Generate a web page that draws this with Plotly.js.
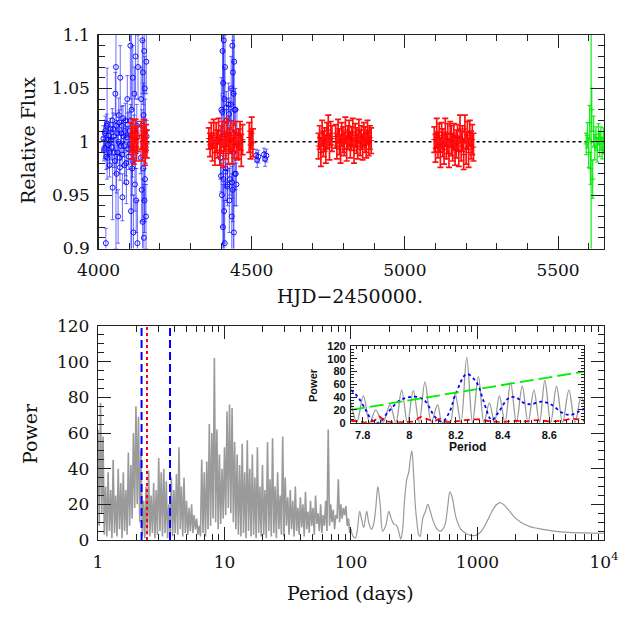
<!DOCTYPE html>
<html>
<head>
<meta charset="utf-8">
<script src="https://cdn.plot.ly/plotly-3.0.1.min.js"></script>
<style>
  body { margin: 0; background: #fff; }
  #plot { width: 638px; height: 638px; }
</style>
</head>
<body>
<div id="plot"></div>
<script>
// light curve: blue, red and green data sets (HJD-2450000, relative flux, error)
var blueX = [4016,4019,4022,4024,4025,4028,4031,4034,4037,4040,
  4046,4048,4051,4055,4057,4059,4061,4064,4066,4069,4071,4073,4076,4078,
  4082,4085,4088,4091,4094,4097,4100,
  4104,4106,4108,4110,4112,4114,4117,4119,4121,4123,4125,4127,4129,
  4139,4141,4143,4144,4145,4146,4147,4148,4149,4150,4151,4152,4153,4155,4156,
  4398,4401,4403,4405,4406,4407,4408,4409,4410,4411,4412,4413,4415,4418,4421,4424,4427,4430,
  4433,4435,4437,4438,4439,4440,4441,4442,4443,4445,4447,4450,4452,
  4514,4518,4522,4540,4544,4548,
  4018,4021,4027,4030,4033,4036,4039,4043,4045,4050,4053,4058,4062,4065,4068,4070,4074,4077,
  4080,4083,4087,4090,4093,4096,4099,4102,4105,4111,4116,4120,4126,4138,4142,4154,4157,
  4400,4404,4414,4417,4420,4426,4429,4432,4436,4444,4448];
var blueY = [1.003,0.994,1.010,0.905,0.986,1.017,0.997,1.006,0.990,1.001,
  0.957,1.012,0.990,1.045,1.070,0.970,1.008,0.930,1.025,0.985,1.060,0.996,1.015,0.948,
  1.005,0.978,1.020,0.962,1.040,0.993,1.010,
  1.090,0.935,1.030,0.975,1.060,0.915,1.045,0.960,1.080,0.945,1.015,0.905,1.070,
  1.040,0.955,1.095,0.925,1.065,0.975,1.025,0.910,1.085,0.945,1.050,0.965,1.010,0.930,1.075,
  0.985,1.030,0.950,1.085,0.920,1.055,0.965,1.095,0.935,1.040,0.905,1.070,0.975,1.020,0.960,1.035,0.945,1.010,
  1.050,0.930,1.090,0.955,1.065,0.990,1.045,0.915,1.075,0.970,1.030,0.960,1.010,
  0.987,0.983,0.986,0.988,0.984,0.987,
  0.992,1.008,1.015,0.985,1.002,0.978,1.012,0.995,1.020,1.005,0.982,1.015,0.990,1.000,1.018,0.976,1.008,0.988,
  1.022,0.996,1.010,0.980,1.004,1.016,0.986,0.998,1.020,0.982,1.010,0.990,1.004,0.985,1.015,0.995,1.005,
  0.968,1.028,0.972,1.032,0.958,1.026,0.965,1.035,0.962,1.030,0.970];
var blueErr = [0.012,0.010,0.014,0.014,0.012,0.052,0.011,0.012,0.013,0.010,
  0.030,0.015,0.014,0.020,0.170,0.018,0.012,0.025,0.016,0.015,0.030,0.013,0.018,0.022,
  0.015,0.017,0.016,0.020,0.022,0.014,0.018,
  0.050,0.040,0.160,0.025,0.030,0.035,0.025,0.025,0.040,0.030,0.020,0.040,0.030,
  0.030,0.030,0.050,0.040,0.030,0.030,0.030,0.050,0.040,0.030,0.030,0.040,0.030,0.030,0.030,
  0.020,0.030,0.030,0.040,0.040,0.030,0.160,0.040,0.030,0.030,0.040,0.030,0.030,0.020,0.020,0.020,0.030,0.020,
  0.030,0.040,0.040,0.030,0.030,0.150,0.030,0.040,0.030,0.030,0.020,0.020,0.020,
  0.006,0.007,0.006,0.006,0.007,0.006,
  0.010,0.012,0.011,0.010,0.012,0.011,0.010,0.012,0.011,0.013,0.012,0.011,0.010,0.012,0.011,0.012,0.010,0.011,
  0.012,0.010,0.011,0.012,0.010,0.011,0.012,0.010,0.015,0.015,0.015,0.015,0.015,0.015,0.015,0.015,0.015,
  0.015,0.015,0.015,0.015,0.015,0.015,0.015,0.015,0.015,0.015,0.015];

var redX = [4106,4109,4112,4115,4118,4121,4124,4128,
  4140,4143,4146,4149,4152,4155,4158,
  4360,4364,4368,4372,4376,4380,4384,4388,4392,4396,4400,4404,4408,4412,4416,4420,4424,4428,4432,4436,4440,4444,4448,4452,
  4458,4462,4466,4470,
  4492,4496,4500,4504,
  4718,4722,4726,4730,4734,4738,4742,4746,4750,4754,4758,4762,
  4774,4778,4782,4786,4790,4794,4798,4802,4806,4810,4814,4818,4822,4826,4830,4834,4838,4842,4846,4850,4854,4858,4862,4866,4870,4874,4878,4882,4886,4890,
  5096,5100,5104,5108,5112,5116,5120,5124,5128,5132,5136,5140,5144,5148,5152,5156,5160,5164,5168,5172,5176,5180,5184,5188,5192,5196,5200,5204,5208,5212,5216,5220,5224];
var redY = [1.004,0.996,1.008,0.992,1.002,1.010,0.995,1.003,
  1.006,0.994,1.001,1.009,0.991,1.004,0.998,
  1.003,0.997,1.006,0.994,1.008,0.990,1.004,0.998,1.010,0.992,1.002,1.007,0.989,1.005,0.996,1.009,0.993,1.001,1.006,0.991,1.004,0.997,1.008,0.995,
  0.998,1.006,0.992,1.002,
  1.004,0.997,1.008,0.999,
  0.996,1.004,0.990,1.008,0.998,1.002,0.993,1.006,1.011,0.995,1.008,1.003,
  1.005,0.996,1.010,1.000,0.993,1.007,1.002,0.998,1.011,0.994,1.004,1.008,0.997,1.003,1.009,0.992,1.006,1.001,0.996,1.010,0.999,1.004,0.995,1.007,1.002,0.997,1.009,0.999,1.004,1.001,
  1.002,0.994,1.008,0.997,1.004,0.990,1.006,0.999,0.993,1.009,0.996,1.003,0.989,1.007,1.001,0.995,1.005,0.992,0.998,1.004,0.991,1.012,0.996,1.003,0.988,1.012,0.994,1.006,0.990,1.008,0.997,1.002,0.995];
var redErr = [0.014,0.012,0.013,0.013,0.012,0.011,0.013,0.012,
  0.013,0.012,0.014,0.012,0.013,0.012,0.013,
  0.010,0.011,0.012,0.012,0.013,0.012,0.014,0.013,0.012,0.014,0.013,0.012,0.013,0.014,0.012,0.013,0.014,0.012,0.013,0.012,0.013,0.012,0.011,0.012,
  0.014,0.013,0.015,0.014,
  0.014,0.013,0.015,0.013,
  0.012,0.011,0.013,0.012,0.012,0.011,0.013,0.012,0.014,0.012,0.011,0.012,
  0.011,0.012,0.011,0.012,0.013,0.011,0.012,0.011,0.012,0.012,0.011,0.012,0.012,0.011,0.013,0.012,0.011,0.012,0.012,0.011,0.012,0.011,0.012,0.011,0.012,0.012,0.011,0.012,0.011,0.012,
  0.012,0.013,0.014,0.012,0.013,0.014,0.012,0.013,0.014,0.013,0.012,0.014,0.013,0.012,0.014,0.013,0.012,0.014,0.013,0.012,0.014,0.013,0.014,0.012,0.014,0.013,0.015,0.013,0.014,0.012,0.013,0.014,0.013];

var greenX = [5592,5596,5600,5603,5606,5608,5610,5613,5616,5620,5624,5628,5632,5636,5640,5644,5648];
var greenY = [0.998,1.006,0.990,1.018,0.975,1.000,1.030,0.965,1.010,0.995,1.004,0.992,1.007,0.998,1.003,0.994,1.001];
var greenErr = [0.010,0.012,0.014,0.016,0.015,0.150,0.020,0.018,0.014,0.012,0.010,0.011,0.010,0.012,0.011,0.010,0.012];

var hjdRange = [4000, 5650];
var fluxLevel = 1;

// periodogram (days, power)
var perDense = [1.000,1.023,1.047,1.072,1.096,1.122,1.148,1.175,1.202,1.230,
  1.259,1.288,1.318,1.349,1.380,1.413,1.445,1.479,1.514,1.549,
  1.585,1.622,1.660,1.698,1.738,1.778,1.820,1.862,1.905,1.950,
  1.995,2.042,2.089,2.138,2.188,2.239,2.291,2.344,2.399,2.455,
  2.512,2.570,2.630,2.692,2.754,2.818,2.884,2.951,3.020,3.090,
  3.162,3.236,3.311,3.388,3.467,3.548,3.631,3.715,3.802,3.890,
  3.981,4.074,4.169,4.266,4.365,4.467,4.571,4.677,4.786,4.898,
  5.012,5.129,5.248,5.370,5.495,5.623,5.754,5.888,6.026,6.166,
  6.310,6.457,6.607,6.761,6.918,7.079,7.244,7.413,7.586,7.762,
  7.943,8.128,8.318,8.511,8.710,8.913,9.120,9.333,9.550,9.772,
  10.00,10.23,10.47,10.72,10.96,11.22,11.48,11.75,12.02,12.30,
  12.59,12.88,13.18,13.49,13.80,14.13,14.45,14.79,15.14,15.49,
  15.85,16.22,16.60,16.98,17.38,17.78,18.20,18.62,19.05,19.50,
  19.95,20.42,20.89,21.38,21.88,22.39,22.91,23.44,23.99,24.55,
  25.12,25.70,26.30,26.92,27.54,28.18,28.84,29.51,30.20,30.90,
  31.62,32.36,33.11,33.88,34.67,35.48,36.31,37.15,38.02,38.90,
  39.81,40.74,41.69,42.66,43.65,44.67,45.71,46.77,47.86,48.98,
  50.12,51.29,52.48,53.70,54.95,56.23,57.54,58.88,60.26,61.66,
  63.10,64.57,66.07,67.61,69.18,70.79,72.44,74.13,75.86,77.62,
  79.43,81.28,83.18,85.11,87.10,89.13,91.20,93.33,95.50,97.72,
  100.0];
var powDense = [62,8,77,15,58,3,30,2,38,5,
  28,1,45,4,25,2,40,6,32,1,
  38,5,28,3,49,8,42,12,60,18,
  75,20,69,10,50,2,22,1,30,3,
  39,2,25,4,32,1,28,3,46,5,
  38,2,40,4,33,1,20,3,35,2,
  28,4,37,3,52,6,30,2,35,4,
  22,3,18,5,20,4,14,6,12,3,
  8,2,45,4,38,2,44,6,65,8,
  60,12,102,10,62,6,48,9,40,12,
  52,14,72,18,76,15,74,10,55,6,
  48,3,42,2,54,4,38,1,56,5,
  40,2,48,3,35,1,52,4,30,2,
  42,3,28,1,55,5,34,2,57,4,
  30,1,38,6,25,3,58,2,35,8,
  24,3,28,6,22,2,30,5,18,3,
  24,7,20,2,27,6,16,4,22,8,
  18,3,25,9,15,5,20,4,14,8,
  22,5,62,8,20,10,17,6,14,12,
  34,10,20,12,18,14,19,8,12,4,
  6];
var perLong = [100,104,108,112,117,121,126,133,138,145,150,157,163,170,178,188,199,208,218,230,
  240,247,255,265,276,286,294,303,312,322,333,343,352,362,372,388,405,420,440,470,
  510,550,580,605,630,680,740,820,900,1000,1100,1200,1300,1400,1500,1600,1750,1950,2200,2600,
  3000,4000,5300,7000,10000];
var powLong = [6,2,1,5,16,12,7,16,10,6,8,18,30,20,5,8,16,12,9,8,
  4,0.5,5,22,34,38,45,50,38,20,9,3,2,8,13,16,20,17,12,7,
  5,8,18,27,24,12,6,3.5,2.5,3,6,11,16,19.5,21,20,17,13,10,7.5,
  6.5,5,4.3,4,3.8];
var bluePeriods = [2.21, 3.71];
var redPeriod = 2.44;
var powRange = [0, 120];

// inset: zoom around 8.2 d
var insetPer = [7.750,7.775,7.803,7.830,7.856,7.886,7.917,7.942,7.967,7.992,8.017,8.042,8.067,8.094,8.121,8.140,8.158,8.175,
  8.196,8.221,8.246,8.271,8.296,8.320,8.343,8.365,8.386,8.410,8.434,8.459,8.484,8.509,8.534,8.558,8.581,8.606,8.631,8.657,8.684,8.710,8.736,8.750];
var insetPow = [30,1,42,0,20,0,28,0,51,0,50,0,64,1,28,0,4,0,
  46,0,102,0,72,0,31,0,42,0,63,0,57,0,51,0,66,0,57,0,51,0,40,30];
var bluePer = [7.750,7.780,7.810,7.840,7.870,7.910,7.960,8.000,8.040,8.070,8.110,8.140,8.170,8.200,8.246,8.290,8.317,8.353,8.380,8.424,8.453,8.496,8.524,8.567,8.610,8.653,8.689,8.724,8.750];
var bluePow = [51,40,22,4,0,17,35,40,40,33,9,1.5,15,46,76,62,35,4,15,38,40,30,29,33,28,16,12,17,22];
var redPer = [7.750,7.780,7.820,7.850,7.870,7.890,7.930,7.980,8.020,8.050,8.080,8.110,8.130,8.160,8.200,8.240,8.300,8.350,8.400,8.450,8.500,8.550,8.600,8.650,8.700,8.730,8.750];
var redPow = [3,2,0.5,3,10,4,0.5,1,2,9,5,3,6,1,2,4,5,2,1,3,2,4,2,3,6,5,3];
var fapPer = [7.75, 8.75];
var fapPow = [20, 80];

var serif = {family: 'DejaVu Serif', size: 17, color: '#111'};
var serifTitle = {family: 'DejaVu Serif', size: 19, color: '#111'};
var boldSmall = {family: 'Liberation Sans', size: 11, color: '#111', weight: 'bold'};

function errBar(arr, color, w, cap) {
  return {type: 'data', array: arr, visible: true, color: color, thickness: w, width: cap};
}

var data = [
  {x: hjdRange, y: [fluxLevel, fluxLevel], mode: 'lines', xaxis: 'x', yaxis: 'y',
   line: {color: '#000', width: 1.5, dash: 'dot'}, hoverinfo: 'skip'},
  {x: blueX, y: blueY, mode: 'markers', xaxis: 'x', yaxis: 'y',
   marker: {symbol: 'circle-open', size: 5, color: '#0000ff', line: {width: 0.9}},
   error_y: errBar(blueErr, 'rgba(30,30,255,0.65)', 1, 2)},
  {x: redX, y: redY, mode: 'markers', xaxis: 'x', yaxis: 'y',
   marker: {symbol: 'cross-thin-open', size: 4, color: '#ff0000', line: {width: 1, color: '#ff0000'}},
   error_y: errBar(redErr, '#ff1010', 1.7, 3)},
  {x: greenX, y: greenY, mode: 'markers', xaxis: 'x', yaxis: 'y',
   marker: {symbol: 'cross-thin-open', size: 4, color: '#00ee00', line: {width: 1, color: '#00ee00'}},
   error_y: errBar(greenErr, 'rgba(0,230,0,0.85)', 1.3, 2)},

  {x: perDense, y: powDense, mode: 'lines', xaxis: 'x2', yaxis: 'y2',
   line: {color: '#9a9a9a', width: 1.6}},
  {x: perLong, y: powLong, mode: 'lines', xaxis: 'x2', yaxis: 'y2',
   line: {color: '#9a9a9a', width: 1.2, shape: 'spline'}},
  {x: [bluePeriods[0], bluePeriods[0], null, bluePeriods[1], bluePeriods[1]],
   y: [powRange[0], powRange[1], null, powRange[0], powRange[1]],
   mode: 'lines', xaxis: 'x2', yaxis: 'y2', line: {color: '#0000ff', width: 2, dash: '8px,4px'}},
  {x: [redPeriod, redPeriod], y: powRange, mode: 'lines', xaxis: 'x2', yaxis: 'y2',
   line: {color: '#ff0000', width: 2, dash: 'dot'}},

  {x: insetPer, y: insetPow, mode: 'lines', xaxis: 'x3', yaxis: 'y3',
   line: {color: '#9a9a9a', width: 1.3, shape: 'spline'}},
  {x: bluePer, y: bluePow, mode: 'lines', xaxis: 'x3', yaxis: 'y3',
   line: {color: '#0000ff', width: 1.8, dash: 'dot', shape: 'spline'}},
  {x: redPer, y: redPow, mode: 'lines', xaxis: 'x3', yaxis: 'y3',
   line: {color: '#ff0000', width: 1.8, dash: '6px,4px', shape: 'spline'}},
  {x: fapPer, y: fapPow, mode: 'lines', xaxis: 'x3', yaxis: 'y3',
   line: {color: '#00ee00', width: 1.8, dash: '14px,5px'}}
];

function ax(extra) {
  var a = {
    showline: true, linecolor: '#222', linewidth: 1.2, mirror: 'allticks',
    ticks: 'inside', ticklen: 13, tickwidth: 1, tickcolor: '#222',
    showgrid: false, zeroline: false, tickfont: serif, fixedrange: true
  };
  for (var k in extra) a[k] = extra[k];
  return a;
}

var layout = {
  width: 638, height: 638,
  margin: {l: 0, r: 0, t: 0, b: 0},
  paper_bgcolor: '#fff', plot_bgcolor: '#fff',
  showlegend: false,
  xaxis: ax({domain: [0.1544, 0.9467], anchor: 'y', range: hjdRange, tick0: 4000, dtick: 500,
    ticklabelstandoff: 6,
    minor: {dtick: 100, ticks: 'inside', ticklen: 6, tickcolor: '#222', showgrid: false}}),
  yaxis: ax({domain: [0.6105, 0.9451], anchor: 'x', range: [0.9, 1.1], tick0: 0.9, dtick: 0.05,
    ticklabelstandoff: 4,
    minor: {dtick: 0.01, ticks: 'inside', ticklen: 6, tickcolor: '#222', showgrid: false}}),
  xaxis2: ax({domain: [0.1536, 0.9467], anchor: 'y2', type: 'log', range: [0, 4],
    tickvals: [1, 10, 100, 1000, 10000], ticktext: ['1', '10', '100', '1000', '10<sup>4</sup>'],
    ticklabelstandoff: 6,
    minor: {dtick: 'D1', ticks: 'inside', ticklen: 6, tickcolor: '#222', showgrid: false}}),
  yaxis2: ax({domain: [0.1536, 0.4890], anchor: 'x2', range: powRange, tick0: 0, dtick: 20,
    ticklabelstandoff: 4,
    minor: {dtick: 5, ticks: 'inside', ticklen: 6, tickcolor: '#222', showgrid: false}}),
  xaxis3: ax({domain: [0.5502, 0.9158], anchor: 'y3', range: [7.75, 8.75], tick0: 7.8, dtick: 0.2,
    ticklen: 6, tickfont: boldSmall, ticklabelstandoff: 2,
    minor: {dtick: 0.025, ticks: 'inside', ticklen: 3, tickcolor: '#222', showgrid: false}}),
  yaxis3: ax({domain: [0.3375, 0.4577], anchor: 'x3', range: powRange, tick0: 0, dtick: 20,
    ticklen: 6, tickfont: boldSmall, ticklabelstandoff: 2,
    minor: {dtick: 5, ticks: 'inside', ticklen: 3, tickcolor: '#222', showgrid: false}}),
  annotations: [
    {text: 'Relative Flux', x: 0.0439, y: 0.779, xref: 'paper', yref: 'paper', textangle: -90,
     showarrow: false, font: serifTitle, xanchor: 'center', yanchor: 'middle'},
    {text: 'HJD\u22122450000.', x: 0.5486, y: 0.536, xref: 'paper', yref: 'paper',
     showarrow: false, font: serifTitle, xanchor: 'center', yanchor: 'middle'},
    {text: 'Power', x: 0.047, y: 0.3213, xref: 'paper', yref: 'paper', textangle: -90,
     showarrow: false, font: serifTitle, xanchor: 'center', yanchor: 'middle'},
    {text: 'Period (days)', x: 0.5486, y: 0.0705, xref: 'paper', yref: 'paper',
     showarrow: false, font: serifTitle, xanchor: 'center', yanchor: 'middle'},
    {text: 'Power', x: 0.4906, y: 0.3966, xref: 'paper', yref: 'paper', textangle: -90,
     showarrow: false, font: boldSmall, xanchor: 'center', yanchor: 'middle'},
    {text: 'Period', x: 0.7335, y: 0.2994, xref: 'paper', yref: 'paper',
     showarrow: false, font: {family: 'Liberation Sans', size: 12, color: '#111', weight: 'bold'},
     xanchor: 'center', yanchor: 'middle'}
  ]
};

Plotly.newPlot('plot', data, layout, {displayModeBar: false, staticPlot: true});
</script>
</body>
</html>
